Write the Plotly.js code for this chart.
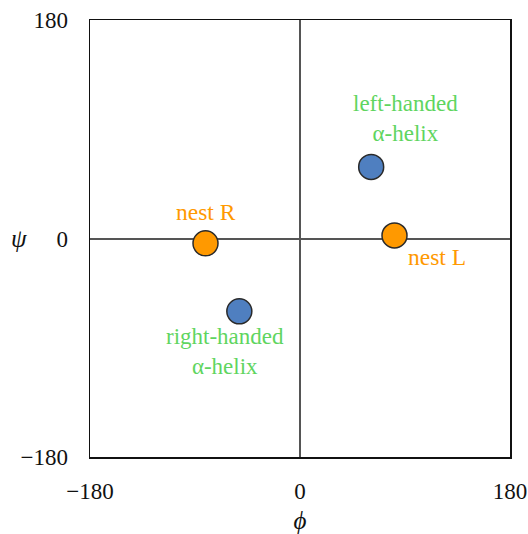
<!DOCTYPE html>
<html><head><meta charset="utf-8">
<script src="https://cdn.plot.ly/plotly-3.0.1.min.js"></script>
<style>html,body{margin:0;padding:0;background:#fff}#chart{width:528px;height:534px}</style>
</head><body><div id="chart"></div>
<script>
// Data (phi, psi in degrees)
const helixNames = ['left-handed α-helix', 'right-handed α-helix'];
const helixPhi = [61, -52];
const helixPsi = [59, -60];
const nestNames = ['nest L', 'nest R'];
const nestPhi = [81, -81];
const nestPsi = [2.5, -4];
const tickVals = [-180, 0, 180];
const tickText = ['\u2212180', '0', '180'];

const serif = '"Liberation Serif", "Times New Roman", serif';
const green = '#5fd55f';
const orange = '#ff9900';

const traces = [
  {x: helixPhi, y: helixPsi, text: helixNames, type: 'scatter', mode: 'markers', hoverinfo: 'text',
   marker: {size: 25, color: '#4f7fc0', line: {color: '#2a2a2a', width: 1.5}}},
  {x: nestPhi, y: nestPsi, text: nestNames, type: 'scatter', mode: 'markers', hoverinfo: 'text',
   marker: {size: 25, color: orange, line: {color: '#2a2a2a', width: 1.5}}}
];

const ann = (x, y, text, color, xs, ys, size) => ({x, y, xref: 'x', yref: 'y', text, showarrow: false,
  xshift: xs, yshift: ys, font: {family: serif, size, color}});

const annotations = [
  ann(helixPhi[0], helixPsi[0], 'left-handed<br>α-helix', green, 34, 48, 23),
  ann(helixPhi[1], helixPsi[1], 'right-handed<br>α-helix', green, -14, -40, 23),
  ann(nestPhi[0], nestPsi[0], 'nest L', orange, 42, -22, 23.5),
  ann(nestPhi[1], nestPsi[1], 'nest R', orange, 0, 31, 23.5),
  {xref: 'paper', yref: 'paper', x: -0.17, y: 0.5, text: '<i>ψ</i>', showarrow: false,
   xanchor: 'center', yanchor: 'middle', font: {family: serif, size: 25, color: '#111'}}
];

const layout = {
  width: 528, height: 534,
  margin: {l: 90, r: 18, t: 20, b: 77},
  paper_bgcolor: '#fff', plot_bgcolor: '#fff',
  showlegend: false,
  font: {family: serif, color: '#111'},
  xaxis: {range: [-180, 180], tickvals: tickVals, ticktext: tickText, ticks: '', showgrid: false,
    zeroline: true, zerolinecolor: '#555', zerolinewidth: 2,
    showline: true, linecolor: '#111', linewidth: 1.5, mirror: true, ticklabeloverflow: 'allow',
    tickfont: {family: serif, size: 23, color: '#111'}, ticklabelstandoff: 13,
    title: {text: '<i>ϕ</i>', font: {family: serif, size: 25, color: '#111'}, standoff: 13}},
  yaxis: {range: [-180, 180], tickvals: tickVals, ticktext: tickText, ticks: '', showgrid: false,
    zeroline: true, zerolinecolor: '#555', zerolinewidth: 2,
    showline: true, linecolor: '#111', linewidth: 1.5, mirror: true,
    tickfont: {family: serif, size: 23, color: '#111'}, ticklabelstandoff: 16},
  annotations
};

Plotly.newPlot('chart', traces, layout, {displayModeBar: false, staticPlot: true});
</script></body></html>
